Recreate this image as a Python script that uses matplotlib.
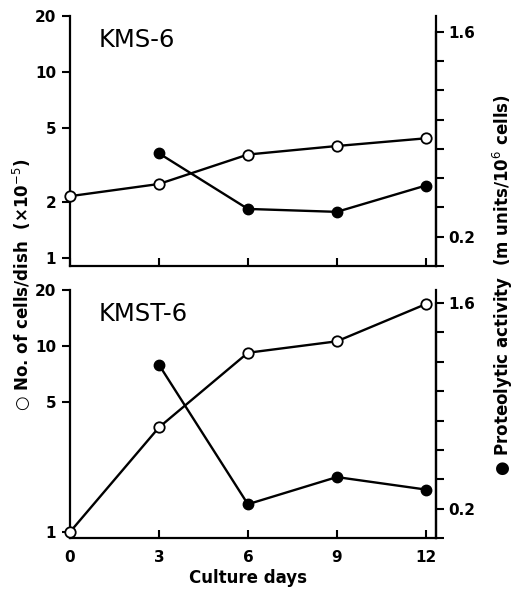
"""
Growth curve and proteolytic activity of KMS-6 / KMST-6 cultures.
Left axis: cell number (log), right axis: proteolytic activity (linear).
"""

import numpy as np
import matplotlib
matplotlib.use("Agg")
import matplotlib.pyplot as plt
from matplotlib.ticker import FixedLocator, FixedFormatter, NullLocator

plt.rcParams["font.family"] = ["DejaVu Sans"]

# ─────────────────────────────────────────────────────────────────────────────
# Data
# ─────────────────────────────────────────────────────────────────────────────
days = [0, 3, 6, 9, 12]
act_days = [3, 6, 9, 12]

kms6_cells = [2.15, 2.5, 3.6, 4.0, 4.4]
kms6_activity = [0.77, 0.39, 0.37, 0.55]

kmst6_cells = [1.0, 3.65, 9.2, 10.6, 16.8]
kmst6_activity = [1.18, 0.23, 0.415, 0.33]

panel_names = ["KMS-6", "KMST-6"]
kms6_cell_ticks = [1, 2, 5, 10, 20]
kmst6_cell_ticks = [1, 5, 10, 20]
act_ticks = [0.0, 0.2, 0.4, 0.6, 0.8, 1.0, 1.2, 1.4, 1.6]
act_labels = ["", "0.2", "", "", "", "", "", "", "1.6"]
day_ticks = [0, 3, 6, 9, 12]


def draw_panel(ax, name, cells, activity, cell_ticks, ylow, act_top, show_x):
    ax2 = ax.twinx()

    ax.plot(days, cells, color="black", lw=1.7, marker="o", ms=7.5,
            mfc="white", mec="black", mew=1.3, zorder=5, clip_on=False)
    ax2.plot(act_days, activity, color="black", lw=1.7, marker="o", ms=7.5,
             mfc="black", mec="black", zorder=5, clip_on=False)

    ax.set_yscale("log")
    ax.set_ylim(ylow, 20)
    ax.set_xlim(0, 12.34)
    ax.yaxis.set_major_locator(FixedLocator(cell_ticks))
    ax.yaxis.set_major_formatter(FixedFormatter([str(t) for t in cell_ticks]))
    ax.yaxis.set_minor_locator(NullLocator())
    ax.set_xticks(day_ticks)
    if show_x:
        ax.set_xticklabels([str(d) for d in day_ticks])
    else:
        ax.set_xticklabels([])

    ax2.set_ylim(0, act_top)
    ax2.yaxis.set_major_locator(FixedLocator(act_ticks))
    ax2.yaxis.set_major_formatter(FixedFormatter(act_labels))
    ax2.spines["right"].set_bounds(0, 1.6)

    for a in (ax, ax2):
        a.spines["top"].set_visible(False)
        for s in a.spines.values():
            s.set_linewidth(1.6)
    ax2.spines["left"].set_visible(False)
    ax2.spines["bottom"].set_visible(False)

    ax.tick_params(axis="y", direction="out", length=6, width=1.5,
                   labelsize=11, pad=4)
    ax.tick_params(axis="x", direction="in", length=6, width=1.5,
                   labelsize=11, pad=9)
    ax2.tick_params(axis="y", direction="out", length=6, width=1.5,
                    labelsize=11, pad=3)
    for lab in ax.get_yticklabels() + ax.get_xticklabels() + ax2.get_yticklabels():
        lab.set_fontweight("bold")

    ax.text(0.077, 0.905, name, transform=ax.transAxes, fontsize=17.5,
            ha="left", va="center")


fig = plt.figure(figsize=(5.16, 6.03), dpi=100)
ax_top = fig.add_axes([0.1357, 0.5589, 0.709, 0.4146])
ax_bot = fig.add_axes([0.1357, 0.1078, 0.709, 0.4112])

draw_panel(ax_top, panel_names[0], kms6_cells, kms6_activity, kms6_cell_ticks,
           0.906, 1.709, False)
draw_panel(ax_bot, panel_names[1], kmst6_cells, kmst6_activity, kmst6_cell_ticks,
           0.928, 1.689, True)

fig.text(0.043, 0.527, "○ No. of cells/dish  (×10$^{-5}$)", rotation=90,
         ha="center", va="center", fontsize=12, fontweight="bold")
fig.text(0.975, 0.527, "● Proteolytic activity  (m units/10$^{6}$ cells)",
         rotation=90, ha="center", va="center", fontsize=12, fontweight="bold")
fig.text(0.48, 0.041, "Culture days", ha="center", va="center",
         fontsize=12, fontweight="bold")

fig.savefig("out.png", dpi=100)
plt.close(fig)
